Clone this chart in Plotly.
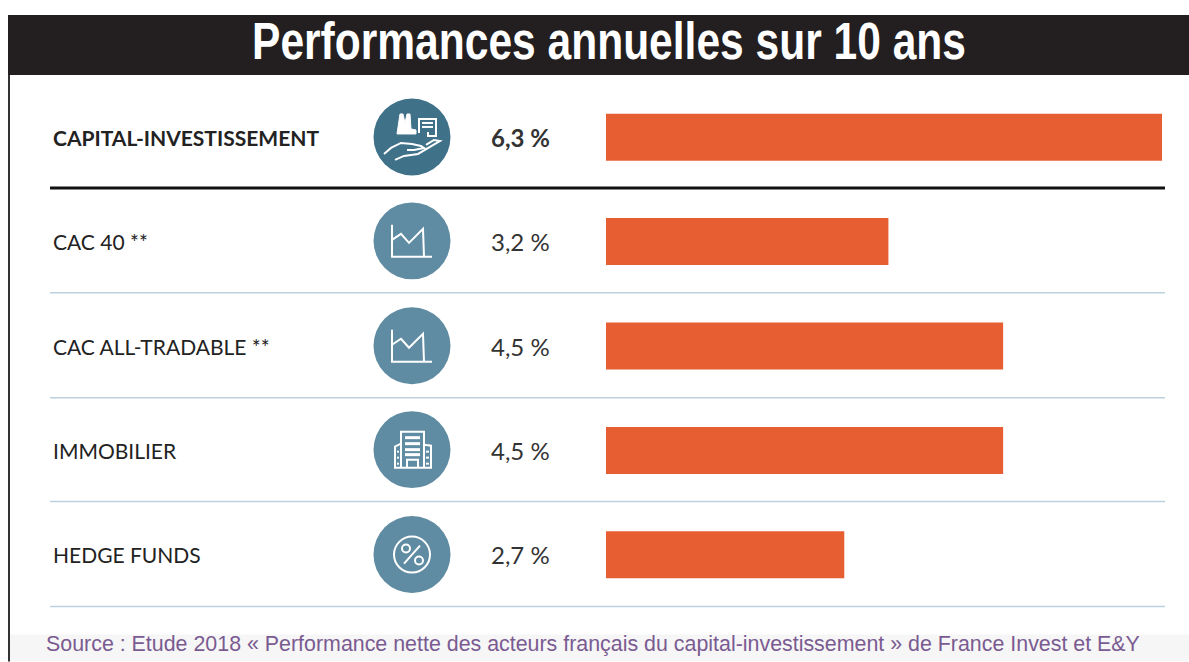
import plotly.graph_objects as go

W, H = 1189, 662
LEFT, RIGHT, TOP, BOTTOM = 606, 1162, 85, 607.5

title = 'Performances annuelles sur 10 ans'
source = 'Source : Etude 2018 « Performance nette des acteurs français du capital-investissement » de France Invest et E&Y'
categories = ['CAPITAL-INVESTISSEMENT', 'CAC 40 **', 'CAC ALL-TRADABLE **', 'IMMOBILIER', 'HEDGE FUNDS']
values = [6.3, 3.2, 4.5, 4.5, 2.7]
value_labels = ['6,3 %', '3,2 %', '4,5 %', '4,5 %', '2,7 %']

BAR = '#e85e33'
DARK_ICON = '#3f7189'
ICON = '#5f8ca2'
RULE = '#bcd0de'


# pixels -> paper
def px(x):
    return (x - LEFT) / (RIGHT - LEFT)


def py(y):
    return (BOTTOM - y) / (BOTTOM - TOP)


def rect(x0, y0, x1, y1, fill):
    return dict(type='rect', xref='paper', yref='paper', x0=px(x0), x1=px(x1), y0=py(y0), y1=py(y1),
                fillcolor=fill, line=dict(color=fill, width=0), layer='below')


def hline(y, color, width, x0=50, x1=1165):
    return dict(type='line', xref='paper', yref='paper', x0=px(x0), x1=px(x1), y0=py(y), y1=py(y),
                line=dict(color=color, width=width), layer='below')


def circle(cx, cy, r, fill='rgba(0,0,0,0)', line='white', width=0):
    return dict(type='circle', xref='paper', yref='paper', x0=px(cx - r), x1=px(cx + r), y0=py(cy + r), y1=py(cy - r),
                fillcolor=fill, line=dict(color=line, width=width))


# one open or closed polyline, points relative to the icon centre
def poly(cx, cy, pts, width=2, fill=None, closed=False):
    d = 'M ' + ' L '.join(f'{px(cx + a):.5f},{py(cy + b):.5f}' for a, b in pts)
    if closed:
        d += ' Z'
    return dict(type='path', xref='paper', yref='paper', path=d, fillcolor=fill or 'rgba(0,0,0,0)',
                line=dict(color='white', width=width))


def chart_icon(cx, cy):
    return [
        poly(cx, cy, [(-20, -16), (-20, 16), (20, 16)]),
        poly(cx, cy, [(-20, -1), (-11, -7), (-3, 2), (11, -12), (12, 16)]),
    ]


def hand_icon(cx, cy):
    out = [
        # usine
        poly(cx, cy, [(-15, -3), (-12, -23), (-9, -23), (-7, -14), (-5, -23), (-2, -23), (-1, -8), (4, -7), (4, -3)],
             width=1, fill='white', closed=True),
        # immeuble
        poly(cx, cy, [(7, -4), (7, -18), (24, -18), (24, -1), (16, -1), (16, -5)], width=2),
    ]
    for row in (-14, -10):
        out.append(poly(cx, cy, [(10, row), (21, row)], width=2))
    # main
    out.append(poly(cx, cy, [(-28, 17), (-21, 11), (-11, 6), (0, 7), (9, 9), (12, 11), (2, 13), (-5, 13)], width=2))
    out.append(poly(cx, cy, [(-17, 23), (-8, 19), (6, 17), (18, 10), (28, 4), (22, 3), (14, 8)], width=2))
    return out


def building_icon(cx, cy):
    out = [
        poly(cx, cy, [(-11, 18), (-11, -18), (12, -18), (12, 18)], width=2),
        poly(cx, cy, [(-11, -6), (-17, -3), (-17, 18), (19, 18), (19, -4), (12, -5)], width=2),
        poly(cx, cy, [(-5, 18), (-5, 10), (6, 10), (6, 18)], width=2),
    ]
    for row in (-12, -6, 0, 5):
        out.append(poly(cx, cy, [(-7, row), (8, row)], width=3))
    for row in (2, 8, 14):
        out.append(poly(cx, cy, [(-15, row), (-13, row)], width=2))
        out.append(poly(cx, cy, [(14, row), (17, row)], width=2))
    return out


def percent_icon(cx, cy):
    return [
        circle(cx, cy, 18, width=2),
        poly(cx, cy, [(-8, 9), (8, -9)]),
        circle(cx - 6, cy - 6, 4, width=2),
        circle(cx + 7, cy + 6, 4, width=2),
    ]


centers = [137, 241, 346, 450, 555]

shapes = [
    rect(8, 15, W, 75, '#231f20'),
    rect(10, 635, W, H, '#f6f6f6'),
    dict(type='line', xref='paper', yref='paper', x0=px(9), x1=px(9), y0=py(75), y1=py(H),
         line=dict(color='#333333', width=2), layer='below'),
    hline(188, '#111111', 3),
    hline(293, RULE, 1.5),
    hline(398, RULE, 1.5),
    hline(502, RULE, 1.5),
    hline(607, RULE, 1.5),
]
for i, cy in enumerate(centers):
    shapes.append(circle(412, cy, 38.5, fill=DARK_ICON if i == 0 else ICON, line=DARK_ICON if i == 0 else ICON))
shapes += hand_icon(412, centers[0])
shapes += chart_icon(412, centers[1])
shapes += chart_icon(412, centers[2])
shapes += building_icon(412, centers[3])
shapes += percent_icon(412, centers[4])

annotations = []
for i, (cat, lab) in enumerate(zip(categories, value_labels)):
    weight = 'bold' if i == 0 else 'normal'
    annotations.append(dict(x=px(51), y=cat, xref='paper', yref='y', text=cat, showarrow=False, xanchor='left',
                            font=dict(family='Lato', size=21, color='#222222', weight=weight)))
    annotations.append(dict(x=px(489), y=cat, xref='paper', yref='y', text=lab, showarrow=False, xanchor='left',
                            font=dict(family='Lato', size=24, color='#333333', weight=weight)))
annotations.append(dict(x=px(44), y=py(645), xref='paper', yref='paper', text=source, showarrow=False,
                        xanchor='left', yanchor='middle',
                        font=dict(family='Liberation Sans', size=21.4, color='#7a5b91')))

fig = go.Figure(go.Bar(
    x=values,
    y=categories,
    orientation='h',
    marker=dict(color=BAR, line=dict(width=0)),
    hoverinfo='skip',
))
fig.update_layout(
    width=W,
    height=H,
    margin=dict(l=LEFT, r=W - RIGHT, t=TOP, b=H - BOTTOM, pad=0),
    paper_bgcolor='white',
    plot_bgcolor='rgba(0,0,0,0)',
    showlegend=False,
    bargap=0.55,
    title=dict(text=title, x=609 / W, y=1 - 41 / H, xref='container', yref='container', xanchor='center',
               yanchor='middle', font=dict(family='Liberation Sans', size=52, color='white', weight='bold')),
    xaxis=dict(range=[0, 6.3], visible=False, fixedrange=True),
    yaxis=dict(categoryorder='array', categoryarray=categories, autorange='reversed', visible=False, fixedrange=True),
    shapes=shapes,
    annotations=annotations,
)

# no page margin, and the title squeezed like the condensed face of the original
post = """
document.body.style.margin = '0';
var t = document.querySelector('.gtitle');
var b = t.getBBox();
var cx = b.x + b.width / 2;
var k = 714 / b.width;
t.setAttribute('transform', 'translate(' + (609 - k * cx) + ',0) scale(' + k + ',1)');
"""
fig.write_html('out.html', config=dict(displayModeBar=False), post_script=post)
